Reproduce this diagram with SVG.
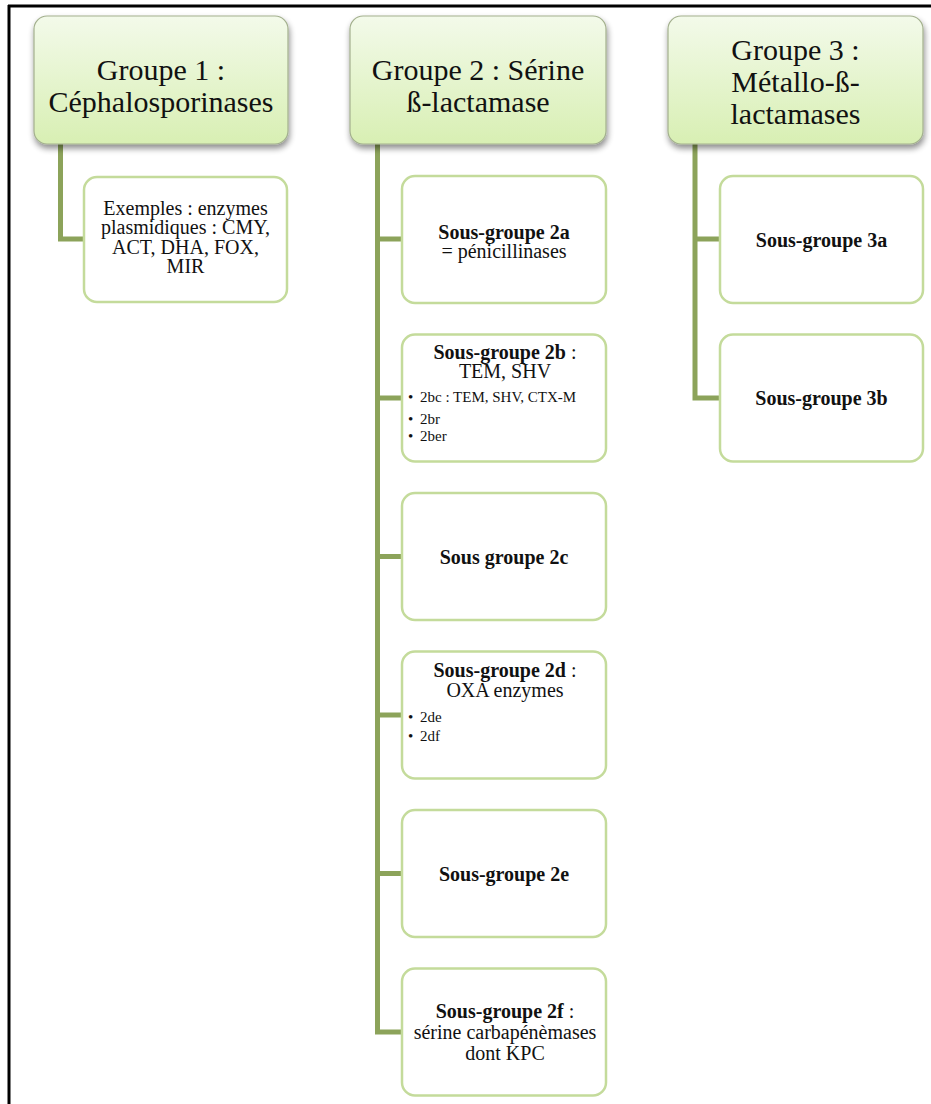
<svg xmlns="http://www.w3.org/2000/svg" width="931" height="1104" viewBox="0 0 931 1104">
<defs>
<linearGradient id="hg" x1="0" y1="0" x2="0" y2="1">
<stop offset="0" stop-color="#f3faea"/>
<stop offset="1" stop-color="#d8efb3"/>
</linearGradient>
<filter id="sh" x="-10%" y="-10%" width="125%" height="130%">
<feGaussianBlur in="SourceAlpha" stdDeviation="3"/>
<feOffset dx="1" dy="4" result="b"/>
<feComponentTransfer><feFuncA type="linear" slope="0.45"/></feComponentTransfer>
<feMerge><feMergeNode/><feMergeNode in="SourceGraphic"/></feMerge>
</filter>
</defs>
<style>
.hd{fill:url(#hg);stroke:#a3b08e;stroke-width:1.2;filter:url(#sh)}
.sb{fill:#ffffff;stroke:#c4db9b;stroke-width:2.5}
.ht{font-family:"Liberation Serif","Times New Roman",serif;font-size:30px;fill:#111;text-anchor:middle}
.t{font-family:"Liberation Serif","Times New Roman",serif;font-size:20px;fill:#111;text-anchor:middle}
.b{font-weight:bold}
.bl{font-family:"Liberation Serif","Times New Roman",serif;font-size:15px;fill:#111}
.cn{fill:none;stroke:#8ca35a;stroke-width:5}
</style>
<rect x="0" y="0" width="931" height="1104" fill="#ffffff"/>
<g id="frame" stroke="#000" stroke-width="3" fill="none">
<line x1="8" y1="6" x2="931" y2="6"/>
<line x1="9" y1="5" x2="9" y2="1104"/>
</g>
<g id="connectors">
<path class="cn" d="M60.5 144 V239 H85"/>
<path class="cn" d="M377.5 144 V1032 H403 M377.5 239 H403 M377.5 398 H403 M377.5 556.5 H403 M377.5 715 H403 M377.5 873.5 H403"/>
<path class="cn" d="M695 144 V398 H721 M695 239 H721"/>
</g>
<g id="g1">
<rect class="hd" x="34" y="16" width="254" height="128" rx="13"/>
<text class="ht"><tspan x="161" y="80">Groupe 1 :</tspan><tspan x="161" y="112">Céphalosporinases</tspan></text>
</g>
<g id="g2">
<rect class="hd" x="350" y="16" width="256" height="128" rx="13"/>
<text class="ht"><tspan x="478" y="80">Groupe 2 : Sérine</tspan><tspan x="478" y="112">ß-lactamase</tspan></text>
</g>
<g id="g3">
<rect class="hd" x="668" y="16" width="255" height="128" rx="13"/>
<text class="ht"><tspan x="795.5" y="60">Groupe 3 :</tspan><tspan x="795.5" y="92">Métallo-ß-</tspan><tspan x="795.5" y="124">lactamases</tspan></text>
</g>
<g id="g1-ex">
<rect class="sb" x="84" y="177" width="203" height="125" rx="13"/>
<text class="t"><tspan x="185.5" y="214.5">Exemples : enzymes</tspan><tspan x="185.5" y="234">plasmidiques : CMY,</tspan><tspan x="185.5" y="253.5">ACT, DHA, FOX,</tspan><tspan x="185.5" y="273">MIR</tspan></text>
</g>
<g id="g2a">
<rect class="sb" x="402" y="176" width="204" height="127" rx="13"/>
<text class="t"><tspan class="b" x="504" y="238.5">Sous-groupe 2a</tspan><tspan x="504" y="257.5">= pénicillinases</tspan></text>
</g>
<g id="g2b">
<rect class="sb" x="402" y="334.5" width="204" height="127" rx="13"/>
<text class="t"><tspan x="505" y="358.5"><tspan class="b">Sous-groupe 2b</tspan> :</tspan><tspan x="505" y="378">TEM, SHV</tspan></text>
<text class="bl"><tspan x="408" y="401.5">•</tspan><tspan x="420" y="401.5">2bc : TEM, SHV, CTX-M</tspan><tspan x="408" y="423.5">•</tspan><tspan x="420" y="423.5">2br</tspan><tspan x="408" y="441">•</tspan><tspan x="420" y="441">2ber</tspan></text>
</g>
<g id="g2c">
<rect class="sb" x="402" y="493" width="204" height="127" rx="13"/>
<text class="t b" x="504" y="563.5">Sous groupe 2c</text>
</g>
<g id="g2d">
<rect class="sb" x="402" y="651.5" width="204" height="127" rx="13"/>
<text class="t"><tspan x="505" y="677"><tspan class="b">Sous-groupe 2d</tspan> :</tspan><tspan x="505" y="696.5">OXA enzymes</tspan></text>
<text class="bl"><tspan x="408" y="722">•</tspan><tspan x="420" y="722">2de</tspan><tspan x="408" y="741">•</tspan><tspan x="420" y="741">2df</tspan></text>
</g>
<g id="g2e">
<rect class="sb" x="402" y="810" width="204" height="127" rx="13"/>
<text class="t b" x="504" y="880.5">Sous-groupe 2e</text>
</g>
<g id="g2f">
<rect class="sb" x="402" y="968.5" width="204" height="127" rx="13"/>
<text class="t"><tspan x="505" y="1018"><tspan class="b">Sous-groupe 2f</tspan> :</tspan><tspan x="505" y="1039">sérine carbapénèmases</tspan><tspan x="505" y="1060">dont KPC</tspan></text>
</g>
<g id="g3a">
<rect class="sb" x="720" y="176" width="203" height="127" rx="13"/>
<text class="t b" x="821.5" y="246.5">Sous-groupe 3a</text>
</g>
<g id="g3b">
<rect class="sb" x="720" y="334.5" width="203" height="127" rx="13"/>
<text class="t b" x="821.5" y="405">Sous-groupe 3b</text>
</g>
</svg>
